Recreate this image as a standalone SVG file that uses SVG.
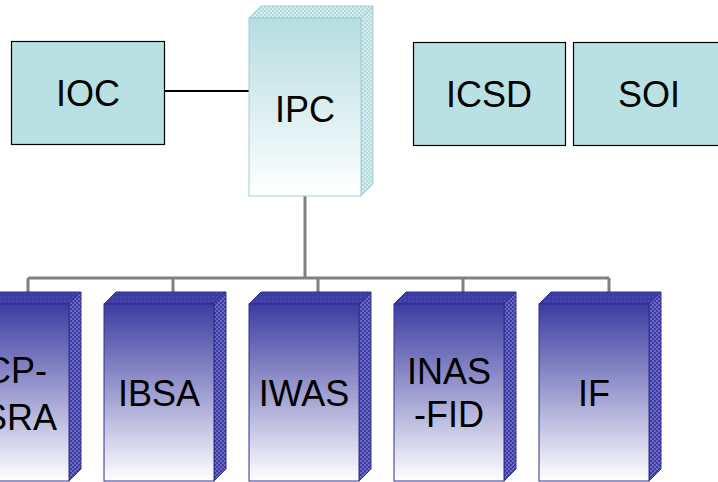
<svg xmlns="http://www.w3.org/2000/svg" width="718" height="482" viewBox="0 0 718 482">
<defs>
<linearGradient id="gTeal" x1="0" y1="0" x2="0" y2="1">
<stop offset="0" stop-color="#b5dde0"/>
<stop offset="1" stop-color="#ffffff"/>
</linearGradient>
<linearGradient id="gBlue" x1="0" y1="0" x2="0" y2="1">
<stop offset="0" stop-color="#3c3ca2"/>
<stop offset="1" stop-color="#ffffff"/>
</linearGradient>
<pattern id="pTeal" width="4" height="4" patternUnits="userSpaceOnUse">
<rect width="4" height="4" fill="#b3dadd"/>
<rect width="2" height="2" fill="#d6ecee"/>
<rect x="2" y="2" width="2" height="2" fill="#d6ecee"/>
</pattern>
<pattern id="pBlue" width="4" height="4" patternUnits="userSpaceOnUse">
<rect width="4" height="4" fill="#3c3ca4"/>
<rect width="2" height="2" fill="#6a6ac0"/>
<rect x="2" y="2" width="2" height="2" fill="#6a6ac0"/>
</pattern>
<pattern id="pBlueTop" width="4" height="4" patternUnits="userSpaceOnUse">
<rect width="4" height="4" fill="#3c3ca2"/>
<rect width="2" height="2" fill="#4848aa"/>
</pattern>
</defs>
<style>
.flat{fill:#b9e0e3;stroke:#000;stroke-width:1.2}
.t{font-family:"Liberation Sans",Arial,sans-serif;font-size:36px;fill:#000;text-anchor:middle}
.te{text-anchor:end}
.tf{fill:url(#gTeal);stroke:#9fcfd2;stroke-width:1}
.tt{fill:url(#pTeal);stroke:#9fcfd2;stroke-width:1}
.bf{fill:url(#gBlue);stroke:#2e2e90;stroke-width:1}
.bs{fill:url(#pBlue);stroke:#2e2e90;stroke-width:1}
.bt{fill:url(#pBlueTop);stroke:#2e2e90;stroke-width:1}
.conn{fill:none;stroke:#808080;stroke-width:3}
</style>
<g id="connectors">
<line x1="164" y1="91" x2="249" y2="91" stroke="#000" stroke-width="2.2"/>
<path class="conn" d="M305 196 V278 M28 278 H609 M28 278 V292 M173 278 V292 M318 278 V292 M463 278 V292 M609 278 V292"/>
</g>
<g id="IOC">
<rect class="flat" x="11.5" y="41.5" width="153" height="103"/>
<text class="t" x="88" y="106">IOC</text>
</g>
<g id="ICSD">
<rect class="flat" x="413.5" y="42.5" width="152" height="103"/>
<text class="t" x="489" y="107">ICSD</text>
</g>
<g id="SOI">
<rect class="flat" x="573.5" y="42.5" width="150" height="103"/>
<text class="t" x="649" y="107">SOI</text>
</g>
<g id="IPC">
<polygon class="tt" points="249,18 361,18 373,6 261,6"/>
<polygon class="tt" points="361,18 373,6 373,184 361,196"/>
<rect class="tf" x="249" y="18" width="112" height="178"/>
<text class="t" x="305" y="122">IPC</text>
</g>
<g id="ICP-SRA">
<polygon class="bt" points="-41,304 69,304 81,292 -29,292"/>
<polygon class="bs" points="69,304 81,292 81,469 69,481"/>
<rect class="bf" x="-41" y="304" width="110" height="177"/>
<text class="t te" x="47" y="383">ICP-</text>
<text class="t te" x="57" y="430">SRA</text>
</g>
<g id="IBSA">
<polygon class="bt" points="104,304 214,304 226,292 116,292"/>
<polygon class="bs" points="214,304 226,292 226,469 214,481"/>
<rect class="bf" x="104" y="304" width="110" height="177"/>
<text class="t" x="159" y="406">IBSA</text>
</g>
<g id="IWAS">
<polygon class="bt" points="249,304 359,304 371,292 261,292"/>
<polygon class="bs" points="359,304 371,292 371,469 359,481"/>
<rect class="bf" x="249" y="304" width="110" height="177"/>
<text class="t" x="304" y="406">IWAS</text>
</g>
<g id="INAS-FID">
<polygon class="bt" points="394,304 504,304 516,292 406,292"/>
<polygon class="bs" points="504,304 516,292 516,469 504,481"/>
<rect class="bf" x="394" y="304" width="110" height="177"/>
<text class="t" x="449" y="384">INAS</text>
<text class="t" x="449" y="427">-FID</text>
</g>
<g id="IF">
<polygon class="bt" points="539,304 649,304 661,292 551,292"/>
<polygon class="bs" points="649,304 661,292 661,469 649,481"/>
<rect class="bf" x="539" y="304" width="110" height="177"/>
<text class="t" x="594" y="406">IF</text>
</g>
</svg>
